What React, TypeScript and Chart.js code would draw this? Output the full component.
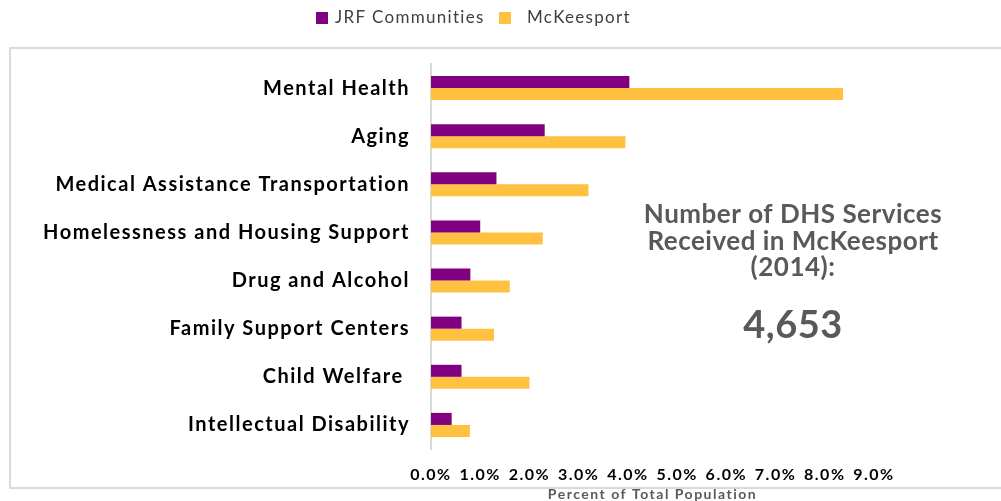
import React, { useEffect, useRef } from "react";
import { Chart, registerables } from "chart.js";

Chart.register(...registerables);

const categories = [
  "Mental Health",
  "Aging",
  "Medical Assistance Transportation",
  "Homelessness and Housing Support",
  "Drug and Alcohol",
  "Family Support Centers",
  "Child Welfare ",
  "Intellectual Disability",
];
const jrfValues = [4.03, 2.31, 1.33, 1.0, 0.8, 0.62, 0.62, 0.42];
const mckValues = [8.37, 3.95, 3.2, 2.27, 1.6, 1.28, 2.0, 0.79];
const seriesNames = ["JRF Communities", "McKeesport"];
const seriesColors = ["#800080", "#ffc13f"];
const xTickMax = 9;
const axisTitle = "Percent of Total Population";
const noteLines = ["Number of DHS Services", "Received in McKeesport", "(2014):"];
const noteValue = "4,653";

const FONT = "Lato, 'Noto Sans', sans-serif";

const decorPlugin = {
  id: "decor",
  beforeDraw(chart: any) {
    const ctx = chart.ctx;
    ctx.save();
    ctx.strokeStyle = "#d9d9d9";
    ctx.lineWidth = 2;
    ctx.strokeRect(10, 48, 1010, 440);
    ctx.restore();
    ctx.letterSpacing = "1.5px";
  },
  afterDraw(chart: any) {
    const ctx = chart.ctx;
    ctx.save();
    // legend
    ctx.letterSpacing = "1.3px";
    ctx.font = `17px ${FONT}`;
    ctx.textBaseline = "middle";
    ctx.textAlign = "left";
    const items = [
      { x: 316, tx: 335 },
      { x: 499, tx: 527 },
    ];
    items.forEach((it, i) => {
      ctx.fillStyle = seriesColors[i];
      ctx.fillRect(it.x, 12, 12, 12);
      ctx.fillStyle = "#404040";
      ctx.fillText(seriesNames[i], it.tx, 18);
    });
    // note
    ctx.fillStyle = "#595959";
    ctx.textAlign = "center";
    ctx.letterSpacing = "0.5px";
    ctx.font = `bold 26px ${FONT}`;
    const ys = [215, 242, 268];
    noteLines.forEach((t, i) => ctx.fillText(t, 793, ys[i]));
    ctx.letterSpacing = "0.5px";
    ctx.font = `bold 38px ${FONT}`;
    ctx.fillText(noteValue, 793, 326);
    ctx.restore();
    ctx.letterSpacing = "0px";
  },
};

export default function App() {
  const ref = useRef<HTMLCanvasElement>(null);
  useEffect(() => {
    if (!ref.current) return;
    const chart = new Chart(ref.current, {
      type: "bar",
      data: {
        labels: categories,
        datasets: [
          { label: seriesNames[0], data: jrfValues, backgroundColor: seriesColors[0], categoryPercentage: 0.5, barPercentage: 1 },
          { label: seriesNames[1], data: mckValues, backgroundColor: seriesColors[1], categoryPercentage: 0.5, barPercentage: 1 },
        ],
      },
      options: {
        indexAxis: "y",
        responsive: false,
        animation: false,
        layout: { padding: { top: 64, right: 127, left: 0, bottom: 0 } },
        plugins: { legend: { display: false }, tooltip: { enabled: false } },
        scales: {
          x: {
            min: 0,
            max: xTickMax,
            grid: { display: false, drawTicks: false },
            border: { display: false },
            ticks: {
              stepSize: 1,
              padding: 16,
              color: "#000",
              font: { family: FONT, size: 16, weight: "bold" },
              callback: (v: any) => Number(v).toFixed(1) + "%",
            },
            title: {
              display: true,
              text: axisTitle,
              color: "#595959",
              font: { family: FONT, size: 14, weight: "bold" },
              padding: { top: 0, bottom: -2 },
            },
            afterFit: (s: any) => { s.height = 52; },
          },
          y: {
            grid: { display: false, drawTicks: false },
            border: { display: true, color: "#d9d9d9", width: 2 },
            ticks: {
              padding: 21,
              color: "#000",
              font: { family: FONT, size: 20, weight: "bold" },
            },
            afterFit: (s: any) => { s.width = 431; },
          },
        },
      },
      plugins: [decorPlugin],
    });
    return () => chart.destroy();
  }, []);
  return (
    <div style={{ position: "fixed", left: 0, top: 0, width: 1001, height: 501, background: "#fff" }}>
      <canvas ref={ref} width={1001} height={501} />
    </div>
  );
}
